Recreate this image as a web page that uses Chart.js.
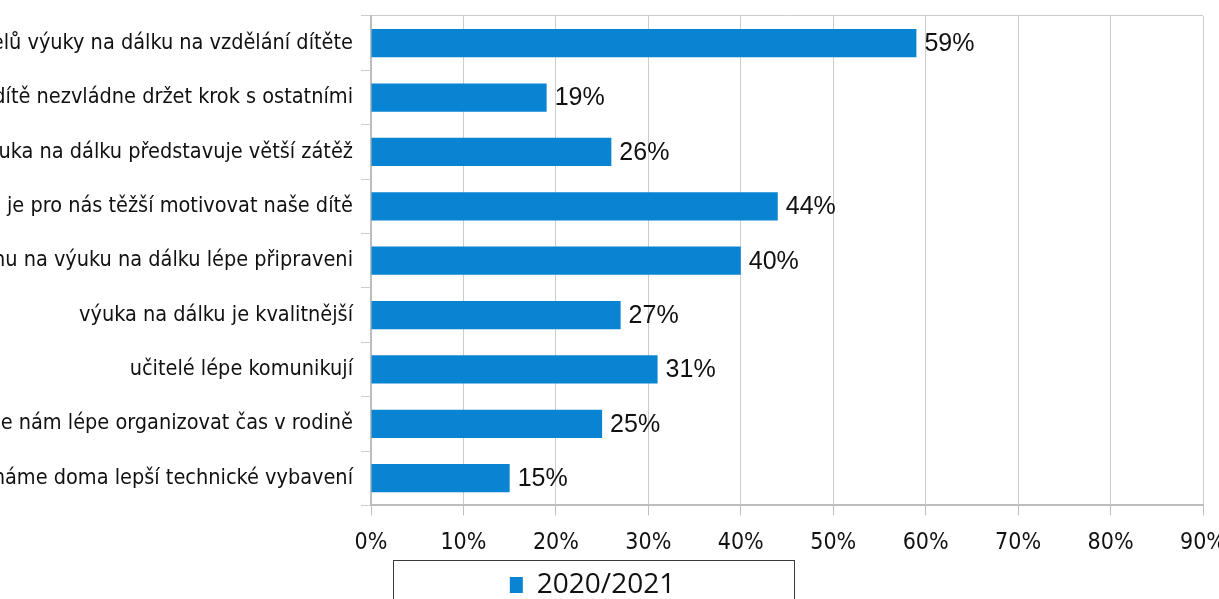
<!DOCTYPE html>
<html>
<head>
<meta charset="utf-8">
<script src="https://cdn.jsdelivr.net/npm/chart.js@4/dist/chart.umd.min.js"></script>
<style>
  html, body { margin: 0; padding: 0; background: #fff; }
  #wrap { width: 1219px; height: 599px; position: relative; }
</style>
</head>
<body>
<div id="wrap"><canvas id="chart"></canvas></div>
<script>
/* ── Data ─────────────────────────────────────────────────────── */
var categories = [
  "obáváme se negativních dopadů modelů výuky na dálku na vzdělání dítěte",
  "obáváme se, že dítě nezvládne držet krok s ostatními",
  "výuka na dálku představuje větší zátěž",
  "je pro nás těžší motivovat naše dítě",
  "jsme díky zkušenosti z jarního lockdownu na výuku na dálku lépe připraveni",
  "výuka na dálku je kvalitnější",
  "učitelé lépe komunikují",
  "výuka na dálku umožňuje nám lépe organizovat čas v rodině",
  "máme doma lepší technické vybavení"
];
var seriesName = "2020/2021";
var values = [59, 19, 26, 44, 40, 27, 31, 25, 15];
var xMax = 90;
var xStep = 10;

/* ── Styles ───────────────────────────────────────────────────── */
var BAR_BLUE = "#0984d2";
var NARROW = "'DejaVu Sans Condensed', sans-serif";

/* ── Plugins ──────────────────────────────────────────────────── */
var valueLabels = {
  id: "valueLabels",
  afterDatasetsDraw: function (chart) {
    var ctx = chart.ctx;
    var meta = chart.getDatasetMeta(0);
    ctx.save();
    ctx.font = "25px 'Liberation Sans', Arial, sans-serif";
    ctx.fillStyle = "#111";
    ctx.textBaseline = "middle";
    ctx.textAlign = "left";
    meta.data.forEach(function (bar, i) {
      ctx.fillText(values[i] + "%", bar.x + 8, bar.y + 1);
    });
    ctx.restore();
  }
};

var legendFrame = {
  id: "legendFrame",
  afterLayout: function (chart) {
    var lg = chart.legend;
    lg.left -= 9;
    lg.right -= 9;
    lg.top += 10;
    lg.bottom += 10;
  },
  afterDraw: function (chart) {
    var lg = chart.legend;
    var cx = (lg.left + lg.right) / 2;
    var ctx = chart.ctx;
    ctx.save();
    ctx.strokeStyle = "#3a3a3a";
    ctx.lineWidth = 1;
    ctx.strokeRect(Math.round(cx - 200) + 0.5, 560.5, 401, 60);
    ctx.restore();
  }
};

/* ── Chart ────────────────────────────────────────────────────── */
new Chart(document.getElementById("chart").getContext("2d"), {
  type: "bar",
  data: {
    labels: categories,
    datasets: [{
      label: seriesName,
      data: values,
      backgroundColor: BAR_BLUE,
      borderWidth: 0,
      barPercentage: 0.52,
      categoryPercentage: 1
    }]
  },
  options: {
    indexAxis: "y",
    responsive: true,
    maintainAspectRatio: false,
    animation: false,
    layout: { padding: { top: 16, right: 16 } },
    plugins: {
      legend: {
        position: "bottom",
        labels: {
          color: "#111",
          boxWidth: 13,
          boxHeight: 16,
          padding: 4,
          font: { family: "'Open Sans', sans-serif", size: 28 }
        }
      },
      tooltip: { enabled: false }
    },
    scales: {
      x: {
        min: 0,
        max: xMax,
        ticks: {
          stepSize: xStep,
          color: "#111",
          padding: 14,
          maxRotation: 0,
          font: { family: NARROW, size: 23 },
          callback: function (v) { return v + "%"; }
        },
        grid: { color: "#cccccc", tickLength: 10, tickColor: "#bdbdbd" },
        border: { color: "#bdbdbd", width: 2 },
        afterFit: function (scale) {
          scale.height -= 14;
          scale.paddingLeft = 0;
          scale.paddingRight = 0;
        }
      },
      y: {
        ticks: {
          color: "#111",
          padding: 8,
          autoSkip: false,
          font: { family: NARROW, size: 21.5 }
        },
        grid: {
          offset: true,
          tickLength: 10,
          tickColor: "#cccccc",
          color: function (c) { return c.index === 0 ? "#cccccc" : "transparent"; }
        },
        border: { color: "#bdbdbd", width: 2 },
        afterFit: function (scale) {
          scale.width = 371;
          scale.paddingTop = 0;
          scale.paddingBottom = 0;
        }
      }
    }
  },
  plugins: [valueLabels, legendFrame]
});
</script>
</body>
</html>
